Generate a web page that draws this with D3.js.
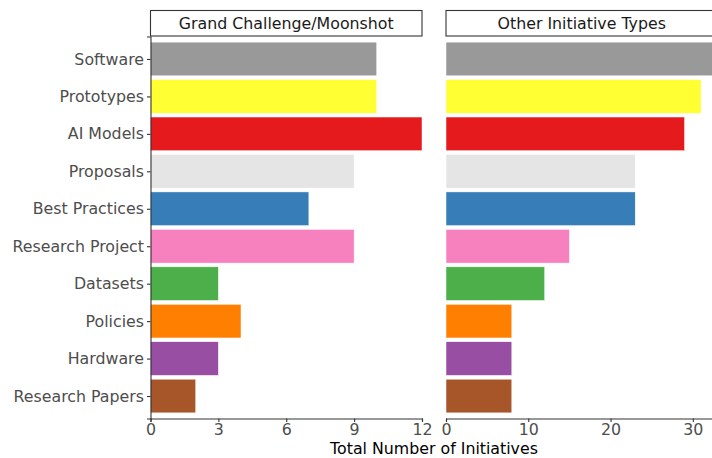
<!DOCTYPE html>
<html><head><meta charset="utf-8">
<script src="https://cdn.jsdelivr.net/npm/d3@7"></script>
<style>body{margin:0;background:#fff}svg{display:block}text{font-family:"DejaVu Sans",sans-serif}</style>
</head><body><svg id="c" width="712" height="458"></svg>
<script>
const categories = ["Software","Prototypes","AI Models","Proposals","Best Practices","Research Project","Datasets","Policies","Hardware","Research Papers"];
const colors = ["#999999","#FFFF33","#E41A1C","#E5E5E5","#377EB8","#F781BF","#4DAF4A","#FF7F00","#984EA3","#A65628"];
const panels = ["Grand Challenge/Moonshot","Other Initiative Types"];
const grandValues = [10,10,12,9,7,9,3,4,3,2];
const otherValues = [33,31,29,23,23,15,12,8,8,8];
const grandTicks = [0,3,6,9,12];
const otherTicks = [0,10,20,30];
const grandMax = 12, otherMax = 33;
const xTitle = "Total Number of Initiatives";

(function(){
const svg = d3.select("#c");
const pTop = 36.5, pBottom = 418.5;
const pw = 271.5;
const lefts = [150.5, 446];
const y = d3.scalePoint().domain(categories).range([pTop, pBottom]).padding(0.6);
const step = y.step();
const fs = 15.8;

const defs = [
  {name: panels[0], vals: grandValues, ticks: grandTicks, max: grandMax},
  {name: panels[1], vals: otherValues, ticks: otherTicks, max: otherMax}
];

defs.forEach((p, i) => {
  const x0 = lefts[i];
  const x = d3.scaleLinear().domain([0, p.max]).range([x0, x0 + pw]);
  const g = svg.append("g");
  g.append("clipPath").attr("id","cp"+i).append("rect").attr("x",x0).attr("y",pTop).attr("width",pw).attr("height",pBottom-pTop);
  g.append("g").attr("clip-path","url(#cp"+i+")").selectAll("rect").data(categories).join("rect")
    .attr("x", x(0)).attr("y", d => y(d) - 0.45*step)
    .attr("width", (d,k) => x(p.vals[k]) - x(0)).attr("height", 0.9*step)
    .attr("fill", (d,k) => colors[k]).attr("stroke","#fff").attr("stroke-width",0.5);
  g.append("rect").attr("x", x0).attr("y", 10.5).attr("width", pw).attr("height", 25.5)
    .attr("fill","#fff").attr("stroke","#333").attr("stroke-width",1.1);
  g.append("text").attr("x", x0 + pw/2).attr("y", 23.5).attr("dy","0.35em").attr("text-anchor","middle")
    .attr("font-size", fs).attr("fill","#1a1a1a").text(p.name);
  const ax = g.append("g").attr("transform",`translate(0,${pBottom})`)
    .call(d3.axisBottom(x).tickValues(p.ticks).tickFormat(d3.format("d")).tickSizeOuter(0).tickSize(3.5).tickPadding(2));
  ax.select(".domain").attr("stroke","#333").attr("stroke-width",1.1);
  ax.selectAll(".tick line").attr("stroke","#333").attr("stroke-width",1.1);
  ax.selectAll(".tick text").attr("font-size", fs).attr("fill","#4d4d4d").attr("font-family","DejaVu Sans");
  if (i === 0) {
    const ay = g.append("g").attr("transform",`translate(${x0},0)`)
      .call(d3.axisLeft(y).tickSizeOuter(0).tickSize(3.5).tickPadding(3));
    ay.select(".domain").attr("stroke","#333").attr("stroke-width",1.1);
    ay.selectAll(".tick line").attr("stroke","#333").attr("stroke-width",1.1);
    ay.selectAll(".tick text").attr("font-size", fs).attr("fill","#4d4d4d").attr("font-family","DejaVu Sans");
  }
});

svg.append("text").attr("x", (lefts[0] + lefts[1] + pw)/2).attr("y", 448.5).attr("dy","0.35em")
  .attr("text-anchor","middle").attr("font-size", fs).attr("fill","#000").text(xTitle);
})();
</script></body></html>
